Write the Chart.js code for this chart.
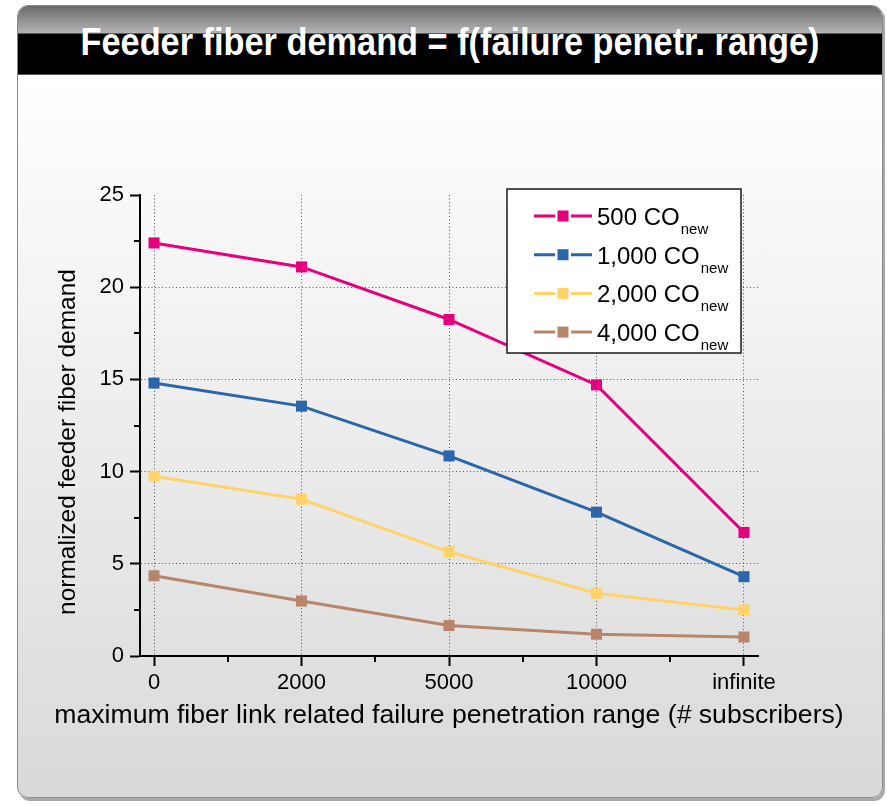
<!DOCTYPE html>
<html>
<head>
<meta charset="utf-8">
<script src="https://cdn.jsdelivr.net/npm/chart.js@4.4.1/dist/chart.umd.min.js"></script>
<style>
  html, body { margin: 0; padding: 0; background: #fff; }
  body { width: 887px; height: 806px; position: relative; overflow: hidden; }
  .panel {
    position: absolute; left: 17px; top: 5px; width: 864px; height: 791px;
    border: 1px solid #8a8a8a; border-radius: 11px;
    background: linear-gradient(to bottom, #ffffff 70px, #d9d9d9 100%);
    box-shadow: 2px 3px 0 #a9a9a9;
    overflow: hidden;
  }
  .panel-head {
    position: relative;
    height: 68px;
    background: linear-gradient(to bottom, #6a6a6a 0px, #b4b4b4 27px, #000 28px, #000 100%);
    border-bottom: 1px solid #555;
  }
  #title {
    position: absolute; left: 50%; top: 14px;
    white-space: nowrap; color: #fff;
    font-family: "Liberation Sans", Arial, sans-serif;
    font-weight: bold; font-size: 38px; line-height: 44px;
    transform-origin: 0 0;
  }
  #chart { position: absolute; left: 0; top: 0; }
</style>
</head>
<body>
<div class="panel"><div class="panel-head"><span id="title">Feeder fiber demand = f(failure penetr. range)</span></div></div>
<canvas id="chart" width="887" height="806"></canvas>
<script>
const categories = ['0', '2000', '5000', '10000', 'infinite'];
const seriesNames = ['500 CO', '1,000 CO', '2,000 CO', '4,000 CO'];
const seriesSub = 'new';
const co500 = [22.4, 21.1, 18.25, 14.7, 6.7];
const co1000 = [14.8, 13.55, 10.85, 7.8, 4.3];
const co2000 = [9.75, 8.5, 5.65, 3.4, 2.5];
const co4000 = [4.35, 2.98, 1.65, 1.18, 1.03];
const seriesColors = ['#e5007d', '#2b66aa', '#ffd36a', '#b7856a'];
const yTicks = [0, 5, 10, 15, 20, 25];
const xTitle = 'maximum fiber link related failure penetration range (# subscribers)';
const yTitle = 'normalized feeder fiber demand';

const allSeries = [co500, co1000, co2000, co4000];

const plain = '"Liberation Sans", Arial, sans-serif';

// squeeze the heading to the condensed width of the original
const titleEl = document.getElementById('title');
const tw = titleEl.getBoundingClientRect().width;
titleEl.style.transform = 'scaleX(' + (739 / tw) + ') translateX(-50%)';

// minor ticks between the major ones
const minorTicks = {
  id: 'minorTicks',
  afterDraw(chart) {
    const { ctx, scales: { x, y }, chartArea } = chart;
    ctx.save();
    ctx.strokeStyle = '#000';
    ctx.lineWidth = 2;
    ctx.beginPath();
    for (let i = 0; i < categories.length - 1; i++) {
      const px = Math.round(x.getPixelForValue(i + 0.5));
      ctx.moveTo(px, chartArea.bottom);
      ctx.lineTo(px, chartArea.bottom + 6);
    }
    for (let i = 0; i < yTicks.length - 1; i++) {
      const py = Math.round(y.getPixelForValue((yTicks[i] + yTicks[i + 1]) / 2));
      ctx.moveTo(chartArea.left, py);
      ctx.lineTo(chartArea.left - 6, py);
    }
    ctx.stroke();
    ctx.restore();
  }
};

// axis titles, wider than the plot so drawn without maxWidth
const axisTitles = {
  id: 'axisTitles',
  afterDraw(chart) {
    const { ctx, chartArea } = chart;
    ctx.save();
    ctx.fillStyle = '#000';
    ctx.textAlign = 'center';
    ctx.textBaseline = 'middle';
    ctx.font = '26.6px ' + plain;
    ctx.fillText(xTitle, (chartArea.left + chartArea.right) / 2, 716);
    ctx.translate(68, 442);
    ctx.rotate(-Math.PI / 2);
    ctx.font = '24.5px ' + plain;
    ctx.fillText(yTitle, 0, 0);
    ctx.restore();
  }
};

// legend box with subscripts, drawn over the lines
const subLegend = {
  id: 'subLegend',
  afterDatasetsDraw(chart) {
    const { ctx } = chart;
    const box = { left: 507, top: 189, width: 234, height: 164 };
    ctx.save();
    ctx.fillStyle = '#fff';
    ctx.fillRect(box.left, box.top, box.width, box.height);
    ctx.strokeStyle = '#1a1a1a';
    ctx.lineWidth = 1.5;
    ctx.strokeRect(box.left, box.top, box.width, box.height);
    chart.data.datasets.forEach((ds, i) => {
      const cy = box.top + 27 + i * 38.7;
      ctx.strokeStyle = ds.borderColor;
      ctx.lineWidth = 3;
      ctx.beginPath();
      ctx.moveTo(534, cy);
      ctx.lineTo(555, cy);
      ctx.moveTo(571, cy);
      ctx.lineTo(592, cy);
      ctx.stroke();
      ctx.fillStyle = ds.borderColor;
      ctx.fillRect(557.5, cy - 5.5, 11, 11);
      ctx.fillStyle = '#000';
      ctx.textBaseline = 'alphabetic';
      ctx.font = '24px ' + plain;
      ctx.fillText(seriesNames[i], 597, cy + 9);
      const w = ctx.measureText(seriesNames[i]).width;
      ctx.font = '15px ' + plain;
      ctx.fillText(seriesSub, 597 + w + 1, cy + 18);
    });
    ctx.restore();
  }
};

const datasets = allSeries.map((vals, i) => ({
  label: seriesNames[i] + ' ' + seriesSub,
  data: vals.map((v, k) => ({ x: k, y: v })),
  borderColor: seriesColors[i],
  backgroundColor: seriesColors[i],
  borderWidth: 3,
  pointStyle: 'rect',
  pointRadius: 7.8,
  pointBorderWidth: 0,
  tension: 0,
}));

const gridOpts = {
  drawTicks: true,
  tickLength: 10,
  tickColor: '#000',
  tickWidth: 2,
  tickBorderDash: [],
  lineWidth: 1,
};

new Chart(document.getElementById('chart').getContext('2d'), {
  type: 'line',
  data: { datasets },
  plugins: [minorTicks, axisTitles, subLegend],
  options: {
    responsive: false,
    animation: false,
    layout: { padding: { left: 50, top: 195, right: 129, bottom: 60 } },
    plugins: { legend: { display: false }, tooltip: { enabled: false } },
    scales: {
      x: {
        type: 'linear',
        min: -0.095,
        max: 4.095,
        afterBuildTicks: s => { s.ticks = categories.map((c, i) => ({ value: i })); },
        afterFit: s => { s.height = 90; },
        ticks: {
          callback: v => categories[v],
          color: '#000',
          font: { family: plain, size: 22 },
          padding: 4,
          maxRotation: 0,
          autoSkip: false,
        },
        grid: Object.assign({}, gridOpts, { color: '#555' }),
        border: { color: '#000', width: 2, dash: [1, 2.5] },
      },
      y: {
        min: 0,
        max: 25,
        afterBuildTicks: s => { s.ticks = yTicks.map(v => ({ value: v })); },
        afterFit: s => { s.width = 90; },
        ticks: {
          color: '#000',
          font: { family: plain, size: 22 },
          padding: 6,
        },
        grid: Object.assign({}, gridOpts, {
          color: c => (c.tick && (c.tick.value === 0 || c.tick.value === 25)) ? 'rgba(0,0,0,0)' : '#555',
        }),
        border: { color: '#000', width: 2, dash: [1, 2.5] },
      },
    },
  },
});
</script>
</body>
</html>
